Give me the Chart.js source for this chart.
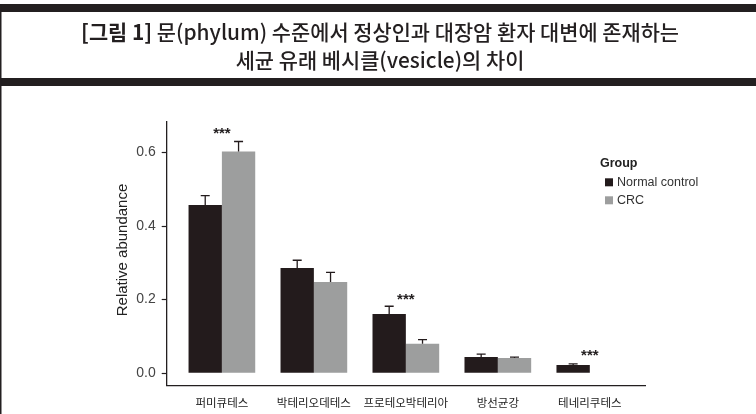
<!DOCTYPE html>
<html>
<head>
<meta charset="utf-8">
<script src="https://cdn.jsdelivr.net/npm/chart.js@4/dist/chart.umd.min.js"></script>
<style>
html,body{margin:0;padding:0;background:#fff;}
#wrap{width:756px;height:414px;position:relative;}
</style>
</head>
<body>
<div id="wrap"><canvas id="c" width="756" height="414"></canvas></div>
<script>
// ---- data ----
const categories = ['퍼미큐테스', '박테리오데테스', '프로테오박테리아', '방선균강', '테네리쿠테스'];
const normalControl = [0.457, 0.286, 0.161, 0.044, 0.0225];
const normalControlSE = [0.026, 0.021, 0.021, 0.008, 0.003];
const crc = [0.603, 0.248, 0.080, 0.0415, 0.001];
const crcSE = [0.027, 0.026, 0.011, 0.002, 0];
const significance = ['***', '', '***', '', '***'];
const significanceY = [0.658, null, 0.207, null, 0.055];
const yTicks = [0.0, 0.2, 0.4, 0.6];
const seriesNames = ['Normal control', 'CRC'];
const legendTitle = 'Group';
const yAxisTitle = 'Relative abundance';
const titleBold = '[그림 1]';
const titleLine1 = ' 문(phylum) 수준에서 정상인과 대장암 환자 대변에 존재하는';
const titleLine2 = '세균 유래 베시클(vesicle)의 차이';

// ---- style ----
const DARK = '#231b1c';
const GREY = '#9d9e9e';
const INK = '#231f20';
const LATIN = '"Liberation Sans", Arial, sans-serif';
const NARROW = '"Liberation Sans Narrow", "Liberation Sans", Arial, sans-serif';
const KR = '"Noto Sans CJK KR", "Noto Sans", sans-serif';

const framePlugin = {
  id: 'frame',
  beforeDraw(chart) {
    const ctx = chart.ctx;
    ctx.save();
    ctx.fillStyle = '#fff';
    ctx.fillRect(0, 0, chart.width, chart.height);
    ctx.fillStyle = INK;
    ctx.fillRect(0, 4, chart.width, 8);
    ctx.fillRect(0, 78, chart.width, 8);
    ctx.fillRect(0, 4, 1.5, chart.height - 4);
    // title
    ctx.textBaseline = 'middle';
    ctx.textAlign = 'left';
    const fs = 21;
    ctx.font = 'bold ' + fs + 'px ' + KR;
    const wb = ctx.measureText(titleBold).width;
    ctx.font = '500 ' + fs + 'px ' + KR;
    const wr = ctx.measureText(titleLine1).width;
    const target = 598;
    const sx = Math.min(1, target / (wb + wr));
    const cx = 380;
    ctx.save();
    ctx.translate(cx - (wb + wr) * sx / 2, 32);
    ctx.scale(sx, 1);
    ctx.font = 'bold ' + fs + 'px ' + KR;
    ctx.fillText(titleBold, 0, 0);
    ctx.font = '500 ' + fs + 'px ' + KR;
    ctx.fillText(titleLine1, wb, 0);
    ctx.restore();
    ctx.save();
    ctx.font = '500 ' + fs + 'px ' + KR;
    const w2 = ctx.measureText(titleLine2).width;
    ctx.translate(cx - w2 * sx / 2, 60);
    ctx.scale(sx, 1);
    ctx.fillText(titleLine2, 0, 0);
    ctx.restore();
    ctx.restore();
  }
};

const errorPlugin = {
  id: 'errbars',
  afterDatasetsDraw(chart) {
    const ctx = chart.ctx;
    const y = chart.scales.y;
    const ses = [normalControlSE, crcSE];
    ctx.save();
    ctx.strokeStyle = DARK;
    ctx.lineWidth = 1.3;
    chart.data.datasets.forEach((ds, di) => {
      const meta = chart.getDatasetMeta(di);
      meta.data.forEach((bar, i) => {
        const se = ses[di][i];
        if (!se) return;
        const v = ds.data[i];
        const top = y.getPixelForValue(v + se);
        const base = y.getPixelForValue(v);
        ctx.beginPath();
        ctx.moveTo(bar.x, base);
        ctx.lineTo(bar.x, top);
        ctx.moveTo(bar.x - 4.5, top);
        ctx.lineTo(bar.x + 4.5, top);
        ctx.stroke();
      });
    });
    ctx.restore();
  }
};

const annotPlugin = {
  id: 'annot',
  afterDraw(chart) {
    const ctx = chart.ctx;
    const xs = chart.scales.x, ys = chart.scales.y;
    ctx.save();
    // significance marks
    ctx.fillStyle = INK;
    ctx.textAlign = 'center';
    ctx.textBaseline = 'middle';
    ctx.font = 'bold 15px ' + LATIN;
    significance.forEach((s, i) => {
      if (!s) return;
      ctx.fillText(s, xs.getPixelForValue(i), ys.getPixelForValue(significanceY[i]) + 3);
    });
    // legend
    ctx.textAlign = 'left';
    ctx.font = 'bold 12.5px ' + LATIN;
    ctx.fillStyle = '#222';
    ctx.fillText(legendTitle, 600, 164);
    ctx.font = '12.5px ' + LATIN;
    const colors = [DARK, GREY];
    seriesNames.forEach((n, i) => {
      const cy = 182.3 + i * 18;
      ctx.fillStyle = colors[i];
      ctx.fillRect(605, cy - 4, 8, 8);
      ctx.fillStyle = '#333';
      ctx.fillText(n, 617, cy);
    });
    // y axis title
    ctx.save();
    ctx.translate(123, 250);
    ctx.rotate(-Math.PI / 2);
    ctx.font = '15px ' + LATIN;
    ctx.fillStyle = '#222';
    ctx.textAlign = 'center';
    ctx.fillText(yAxisTitle, 0, 0);
    ctx.restore();
    ctx.restore();
  }
};

const X_EXPAND = 0.6;

new Chart(document.getElementById('c'), {
  type: 'bar',
  data: {
    labels: categories,
    datasets: [
      { label: seriesNames[0], data: normalControl, backgroundColor: DARK, borderWidth: 0 },
      { label: seriesNames[1], data: crc, backgroundColor: GREY, borderWidth: 0 }
    ]
  },
  options: {
    responsive: false,
    animation: false,
    devicePixelRatio: 1,
    layout: { padding: { left: 110, right: 111, top: 122, bottom: 0 } },
    datasets: { bar: { categoryPercentage: 0.725, barPercentage: 1.0 } },
    plugins: { legend: { display: false }, tooltip: { enabled: false }, title: { display: false } },
    scales: {
      x: {
        type: 'category',
        offset: false,
        grid: { display: false, drawTicks: false },
        border: { display: true, color: INK, width: 1.3 },
        ticks: { padding: 10, color: '#222', font: { family: KR, size: 11.5 }, maxRotation: 0, autoSkip: false },
        afterBuildTicks(s) {
          s._startValue = -X_EXPAND;
          s._valueRange = (categories.length - 1) + 2 * X_EXPAND;
        },
        afterFit(s) { s.height = 28.7; }
      },
      y: {
        min: -0.033,
        max: 0.683,
        afterBuildTicks(s) { s.ticks = yTicks.map(v => ({ value: v })); },
        grid: { drawOnChartArea: false, drawTicks: true, tickLength: 5, tickColor: INK, tickWidth: 1.2 },
        border: { display: true, color: INK, width: 1.3 },
        ticks: { padding: 6, color: '#444', font: { family: NARROW, size: 14 }, callback: v => Number(v).toFixed(1) },
        afterFit(s) { s.width = 56.7; }
      }
    }
  },
  plugins: [framePlugin, errorPlugin, annotPlugin]
});
</script>
</body>
</html>
